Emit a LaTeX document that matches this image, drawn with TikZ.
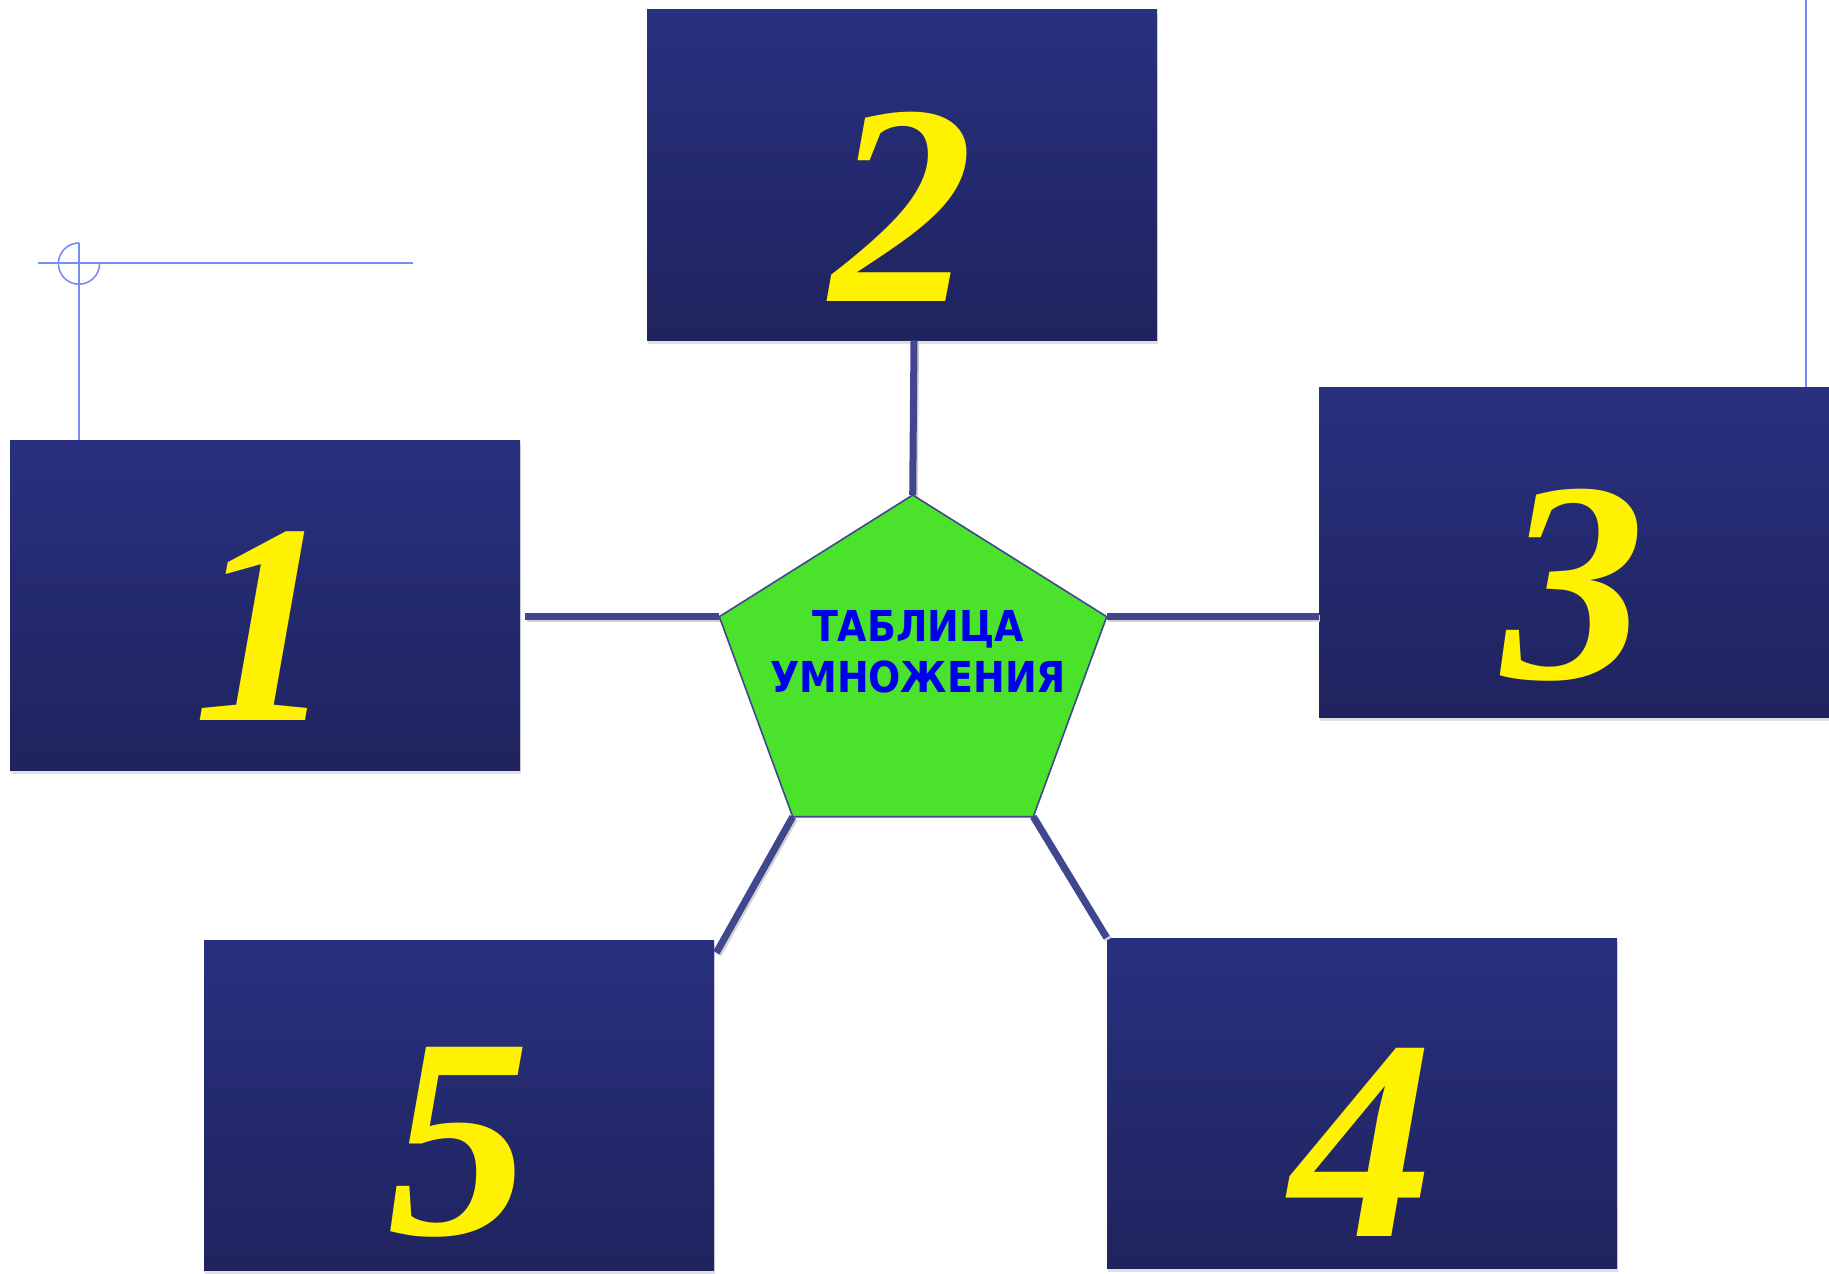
\documentclass[tikz,border=0pt]{standalone}
\usepackage{fontspec}
\newfontfamily\digitfont{Liberation Serif}
\newfontfamily\headfont{DejaVu Sans}[FakeStretch=0.89]
\usetikzlibrary{
  positioning,  % Function "of" (e.g. [above=of x])
  calc,         % Calculations $...$
  shadows,      % Drop shadow of the cards
}
\definecolor{cardtop}{RGB}{41,48,127}
\definecolor{cardbottom}{RGB}{31,35,94}
\definecolor{linkblue}{RGB}{64,71,142}
\definecolor{guideblue}{RGB}{120,140,245}
\definecolor{pentgreen}{RGB}{74,226,42}
\definecolor{headblue}{RGB}{0,0,240}
\tikzset{
  card/.style={
    rectangle,
    minimum width=255pt,
    minimum height=165pt,
    inner sep=0pt,
    top color=cardtop,
    bottom color=cardbottom,
    drop shadow={shadow xshift=0.5pt,shadow yshift=-2pt,opacity=0.25}
  },
  digit/.style={
    text=yellow,
    inner sep=0pt,
    font=\digitfont\bfseries\itshape\fontsize{143}{143}\selectfont,
    anchor=base
  },
  link/.style={
    draw=linkblue,
    line width=3.5pt,
    preaction={
      draw=black!18,
      line width=3.5pt,
      transform canvas={shift={(0.8pt,-1pt)}}
    }
  },
  guide/.style={
    draw=guideblue,
    line width=0.8pt
  },
  pent/.style={
    fill=pentgreen,
    draw=linkblue,
    line width=0.8pt
  },
  headline/.style={
    text=headblue,
    align=center,
    font=\headfont\bfseries\fontsize{21.3}{25.5}\selectfont
  }
}

\begin{document}
\begin{tikzpicture}[x=0.5pt,y=-0.5pt]
\useasboundingbox (0,0) rectangle (1829,1273);
% cards
\node[card] (b1) at (265,605)  {};
\node[card] (b2) at (902,175)  {};
\node[card] (b3) at (1574,552) {};
\node[card] (b4) at (1362,1103){};
\node[card] (b5) at (459,1105) {};
\node[above=25pt of b1.south,digit]   (n1) {1};
\node[above=19.5pt of b2.south,digit] (n2) {2};
\node[above=19.5pt of b3.south,digit] (n3) {3};
\node[above=16pt of b4.south,digit]   (n4) {4};
\node[above=18pt of b5.south,digit]   (n5) {5};
% guides
\coordinate (cross) at (79,263);
\coordinate (rtop)  at (1806,0);
\draw[guide] (38,263) -- (413,263);
\draw[guide] (cross) ++(0,-20) arc[start angle=90,end angle=360,radius=10.3pt];
\draw[guide] (cross) ++(0,-20) -- (cross |- b1.north);
\draw[guide] (rtop) -- (rtop |- b3.north);
% pentagon
\coordinate (pt)  at (912.7,495);
\coordinate (pl)  at (719.3,616.7);
\coordinate (pr)  at (1106.7,616.7);
\coordinate (pbl) at (792.7,816.7);
\coordinate (pbr) at (1033.3,816.7);
\draw[link] (pt)  -- ($(b2.south)+(12,0)$);
\draw[link] (pl)  -- ([xshift=2.5pt]pl -| b1.east);
\draw[link] (pr)  -- (pr -| b3.west);
\draw[link] (pbl) -- ($(b5.north east)+(2,13)$);
\draw[link] (pbr) -- (b4.north west);
\draw[pent] (pt) -- (pr) -- (pbr) -- (pbl) -- (pl) -- cycle;
\node[headline] (head) at (918,652) {ТАБЛИЦА\\УМНОЖЕНИЯ};
\end{tikzpicture}
\end{document}
